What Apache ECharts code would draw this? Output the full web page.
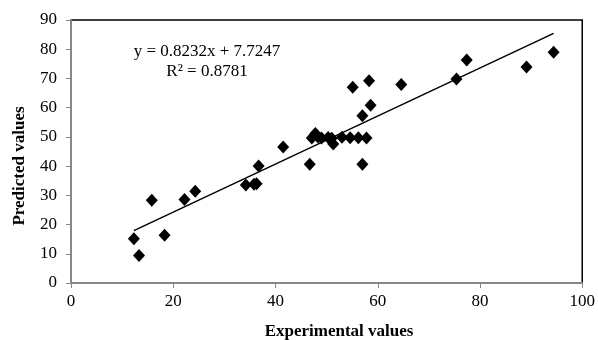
<!DOCTYPE html>
<html>
<head>
<meta charset="utf-8">
<script src="https://cdn.jsdelivr.net/npm/echarts@6/dist/echarts.min.js"></script>
<style>
  html, body { margin: 0; padding: 0; background: #fff; }
  #main { width: 598px; height: 340px; }
</style>
</head>
<body>
<div id="main"></div>
<script>
// data
var expValues = [12.3, 13.3, 15.8, 18.3, 22.2, 24.3, 34.2, 35.8, 36.3, 36.7, 41.5, 46.7,
  47.1, 47.8, 48.3, 49.0, 50.3, 51.0, 51.3, 53.0, 54.6, 56.2, 57.8, 57.0,
  55.1, 57.0, 58.6, 58.3, 64.6, 75.4, 77.4, 89.1, 94.4];
var predValues = [15.1, 9.4, 28.3, 16.3, 28.6, 31.4, 33.5, 33.8, 34.0, 40.0, 46.5, 40.6,
  49.6, 51.2, 50.0, 49.6, 49.8, 49.5, 47.6, 49.9, 49.7, 49.7, 49.6, 40.6,
  67.0, 57.2, 60.8, 69.2, 67.9, 69.8, 76.3, 73.9, 79.0];
var trendX = [12.3, 94.4];
var trendY = [17.9, 85.4];
var xTicks = [0, 20, 40, 60, 80, 100];
var yTicks = [0, 10, 20, 30, 40, 50, 60, 70, 80, 90];
var eqLines = ["y = 0.8232x + 7.7247", "R\u00b2 = 0.8781"];

var points = expValues.map(function (x, i) { return [x, predValues[i]]; });
var trend = trendX.map(function (x, i) { return [x, trendY[i]]; });

var font = "'Liberation Serif', 'Times New Roman', serif";
var chart = echarts.init(document.getElementById("main"), null, { renderer: "canvas" });

chart.setOption({
  animation: false,
  grid: {
    left: 71, right: 13, top: 20, bottom: 57,
    show: true, borderColor: "#000", borderWidth: 1.5, backgroundColor: "#fff"
  },
  xAxis: {
    type: "value", min: xTicks[0], max: xTicks[xTicks.length - 1], interval: 20,
    axisLine: { show: true, lineStyle: { color: "#868686", width: 2 } },
    axisTick: { show: true, length: 5, lineStyle: { color: "#868686" } },
    splitLine: { show: false },
    axisLabel: { color: "#000", fontFamily: font, fontSize: 17, margin: 10 }
  },
  yAxis: {
    type: "value", min: yTicks[0], max: yTicks[yTicks.length - 1], interval: 10,
    axisLine: { show: true, lineStyle: { color: "#868686", width: 2 } },
    axisTick: { show: true, length: 5, lineStyle: { color: "#868686" } },
    splitLine: { show: false },
    axisLabel: { color: "#000", fontFamily: font, fontSize: 17, margin: 14 }
  },
  graphic: [
    { type: "text", x: 207, y: 52,
      style: { text: eqLines[0], font: "17px " + font, fill: "#000",
        align: "center", verticalAlign: "middle" } },
    { type: "text", x: 207, y: 72,
      style: { text: eqLines[1], font: "17px " + font, fill: "#000",
        align: "center", verticalAlign: "middle" } },
    { type: "text", x: 339, y: 332,
      style: { text: "Experimental values", font: "bold 17px " + font, fill: "#000",
        align: "center", verticalAlign: "middle" } },
    { type: "text", x: 20, y: 166, rotation: Math.PI / 2,
      style: { text: "Predicted values", font: "bold 17px " + font, fill: "#000",
        align: "center", verticalAlign: "middle" } }
  ],
  series: [
    {
      type: "line", data: trend, showSymbol: false, symbol: "none",
      lineStyle: { color: "#000", width: 1.5 }, z: 3
    },
    {
      type: "scatter", data: points, symbol: "diamond", symbolSize: [12, 13],
      itemStyle: { color: "#000", opacity: 1 }, z: 2
    }
  ]
});
</script>
</body>
</html>
